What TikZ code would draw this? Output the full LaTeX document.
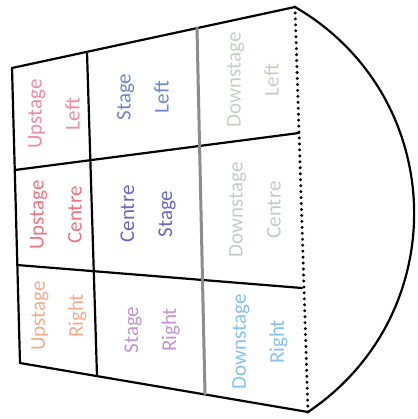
\documentclass[tikz,border=0pt]{standalone}
\usepackage{fontspec}
\setmainfont{Carlito}
\usepackage{tkz-euclide}
\usetikzlibrary{calc}
\definecolor{UpLeftClr}{rgb}{0.94,0.55,0.64}
\definecolor{UpCentreClr}{rgb}{0.94,0.45,0.50}
\definecolor{UpRightClr}{rgb}{0.96,0.68,0.55}
\definecolor{StLeftClr}{rgb}{0.45,0.52,0.82}
\definecolor{StCentreClr}{rgb}{0.42,0.40,0.78}
\definecolor{StRightClr}{rgb}{0.76,0.58,0.82}
\definecolor{DnLeftClr}{rgb}{0.76,0.82,0.76}
\definecolor{DnCentreClr}{rgb}{0.76,0.80,0.80}
\definecolor{DnRightClr}{rgb}{0.52,0.76,0.94}
\definecolor{GridClr}{rgb}{0.55,0.55,0.55}

\begin{document}
\begin{tikzpicture}[x=1pt,y=1pt,
  cell/.style={rotate=90,align=center,font=\fontsize{21}{38}\selectfont}]
\useasboundingbox (0,0) rectangle (417,-419);
\tkzSetUpLine[line width=2.2pt,color=black]

\tkzDefPoints{12/-68/TL,20/-363/BL,295/-7/TR,308/-412/BR}
\tkzDefPoints{87/-52/Pa,97/-376/Pb,197/-28/Qa,205/-394/Qb}
\tkzDefPoints{15/-170/La,299/-133/Ra,17/-265/Lb,302/-288/Rb}

% stage outline
\tkzDrawSegments(TL,BL TL,TR BL,BR)
\foreach \t in {0,...,68}
  \fill ($(TR)!\t/68!(BR)$) circle (1.65pt);
\draw[line width=2.2pt] (TR) .. controls (448,-96) and (455,-313) .. (BR);

% grid
\tkzDrawSegments(Pa,Pb La,Ra Lb,Rb)
\tkzDrawSegment[color=GridClr,line width=3pt](Qa,Qb)

\node[cell,UpLeftClr] (ul) at (54,-114) {Upstage\\Left};
\node[cell,UpCentreClr] (uc) at (56,-215) {Upstage\\Centre};
\node[cell,UpRightClr] (ur) at (59,-316) {Upstage\\Right};
\node[cell,StLeftClr] (sl) at (143,-97) {Stage\\Left};
\node[cell,StCentreClr] (sc) at (148,-214) {Centre\\Stage};
\node[cell,StRightClr] (sr) at (152,-330) {Stage\\Right};
\node[cell,DnLeftClr] (dl) at (253,-80) {Downstage\\Left};
\node[cell,DnCentreClr] (dc) at (255,-210) {Downstage\\Centre};
\node[cell,DnRightClr] (dr) at (260,-342) {Downstage\\Right};

\end{tikzpicture}
\end{document}
